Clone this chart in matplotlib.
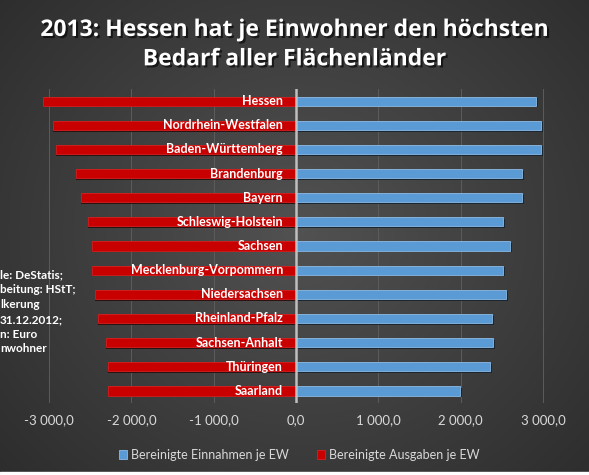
import numpy as np
import matplotlib.pyplot as plt
import matplotlib.patheffects as pe

laender = ["Hessen", "Nordrhein-Westfalen", "Baden-Württemberg", "Brandenburg",
           "Bayern", "Schleswig-Holstein", "Sachsen", "Mecklenburg-Vorpommern",
           "Niedersachsen", "Rheinland-Pfalz", "Sachsen-Anhalt", "Thüringen", "Saarland"]
einnahmen = [2918, 2978, 2978, 2748, 2748, 2517, 2594, 2509, 2554, 2376, 2392, 2352, 1996]
ausgaben = [-3079, -2949, -2921, -2670, -2618, -2525, -2485, -2477, -2440, -2404, -2303, -2283, -2283]
xticks = [-3000, -2000, -1000, 0, 1000, 2000, 3000]
quelle = ["le: DeStatis;", "beitung: HStT;", "lkerung", "31.12.2012;", "n: Euro", "nwohner"]

plt.rcParams['font.family'] = ['Lato', 'DejaVu Sans']

fig = plt.figure(figsize=(5.89, 4.75), dpi=100)

# background: dark radial gradient
bg = fig.add_axes([0, 0, 1, 1], zorder=-10)
yy, xx = np.mgrid[0:475, 0:589]
r = np.sqrt(((xx - 300) / 420.0) ** 2 + ((yy - 230) / 380.0) ** 2)
shade = np.clip(0.32 - 0.15 * r, 0.16, 0.32)
bg.imshow(np.dstack([shade, shade, shade]), aspect='auto', extent=(0, 589, 475, 0))
bg.axhspan(472, 475, color='white')
bg.set_xlim(0, 589)
bg.set_ylim(475, 0)
bg.axis('off')

ax = fig.add_axes([0, 0.1516, 1, 0.661])
ax.set_facecolor('none')
pos = np.arange(len(laender))
h = 0.38

# drop shadows
ax.barh(pos + 0.07, einnahmen, height=h, left=25, color='#1b2633', zorder=2)
ax.barh(pos + 0.07, ausgaben, height=h, color='#2a1212', zorder=2)
b1 = ax.barh(pos, einnahmen, height=h, color='#5b9bd5', edgecolor='#8dbbe6',
             linewidth=0.6, label='Bereinigte Einnahmen je EW', zorder=3)
b2 = ax.barh(pos, ausgaben, height=h, color='#c80000', edgecolor='#d82020',
             linewidth=0.6, label='Bereinigte Ausgaben je EW', zorder=3)

for i, name in enumerate(laender):
    ax.annotate(name, xy=(0, i), xytext=(-13, 0), textcoords='offset pixels',
                ha='right', va='center', color='white', fontweight='bold',
                fontsize=9, zorder=5)

ax.set_xlim(-3597, 3560)
ax.set_ylim(len(laender) - 0.5, -0.5)
ax.set_yticks([])
ax.set_xticks(xticks)
ax.set_xticklabels([f"{v:,.1f}".replace(",", " ").replace(".", ",") for v in xticks],
                   color='#d9d9d9', fontsize=9.5)
ax.tick_params(axis='x', length=0, pad=8)
for v in xticks:
    if v != 0:
        ax.axvline(v, color='#5c5c5c', lw=0.7, zorder=1)
ax.axvline(0, color='#bfbfbf', lw=1.8, zorder=4)
for s in ax.spines.values():
    s.set_visible(False)

fig.text(0.5, 0.906, "2013: Hessen hat je Einwohner den höchsten\nBedarf aller Flächenländer",
         ha='center', va='center', color='white', fontsize=16.5, fontweight='bold',
         family=['Open Sans', 'DejaVu Sans'], linespacing=1.3,
         path_effects=[pe.withSimplePatchShadow(offset=(1.5, -1.5), shadow_rgbFace='black', alpha=0.6)])

for k, line in enumerate(quelle):
    fig.text(0.0, (475 - 275 - 14.8 * k) / 475, line, ha='left', va='center',
             color='white', fontsize=8.5, fontweight='bold')

fig.legend(handles=[b1, b2], loc='center', bbox_to_anchor=(0.508, 0.042), ncol=2,
           frameon=False, labelcolor='#d9d9d9', fontsize=9, handlelength=0.7,
           handleheight=0.7, handletextpad=0.3, columnspacing=2.2)

fig.savefig('out.png', dpi=100)
